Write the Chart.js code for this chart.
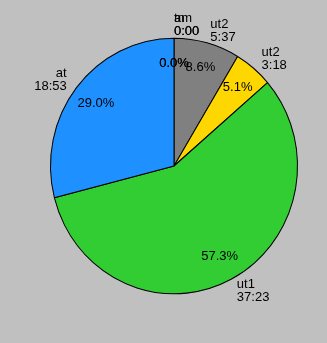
<!DOCTYPE html>
<html>
<head>
<meta charset="utf-8">
<script src="https://cdn.jsdelivr.net/npm/chart.js@4/dist/chart.umd.min.js"></script>
<style>
  html, body { margin: 0; padding: 0; background: #c0c0c0; }
  #chart { display: block; }
</style>
</head>
<body>
<canvas id="chart" width="327" height="343"></canvas>
<script>
// time spent per category, in seconds
const categories = ['am', 'tn', 'ut2', 'ut2', 'ut1', 'at'];
const seconds = [0, 0, 337, 198, 2243, 1133.8];
const sliceColors = ['#808080', '#808080', '#808080', '#ffd700', '#32cd32', '#1e90ff'];

const ctx = document.querySelector('#chart').getContext('2d');
const total = seconds.reduce((a, b) => a + b, 0);
const FONT = '13px "Liberation Sans", Arial, Helvetica, sans-serif';
// the original pie is a bit taller than wide
const STRETCH_Y = 1.035;

function fmtTime(s) {
    const m = Math.floor(s / 60);
    const r = Math.floor(s % 60);
    return `${m}:${r.toString().padStart(2, '0')}`;
}

function pieCenter(chart) {
    const arc = chart.getDatasetMeta(0).data[0];
    return arc.getProps(['x', 'y'], true);
}

const stretchPlugin = {
    id: 'stretch',
    beforeDatasetsDraw: (chart) => {
        const c = chart.ctx;
        const { x, y } = pieCenter(chart);
        c.save();
        c.translate(x, y);
        c.scale(1, STRETCH_Y);
        c.translate(-x, -y);
    },
    afterDatasetsDraw: (chart) => {
        chart.ctx.restore();
    }
};

const labelPlugin = {
    id: 'sliceLabels',
    afterDraw: (chart) => {
        const c = chart.ctx;
        const meta = chart.getDatasetMeta(0);
        c.save();
        c.font = FONT;
        c.fillStyle = '#000';
        meta.data.forEach((arc, i) => {
            const p = arc.getProps(['x', 'y', 'startAngle', 'endAngle', 'outerRadius'], true);
            const mid = (p.startAngle + p.endAngle) / 2;
            const cos = Math.cos(mid);
            const sin = Math.sin(mid) * STRETCH_Y;

            // percentage inside the slice
            const pct = (seconds[i] / total * 100).toFixed(1) + '%';
            c.textAlign = 'center';
            c.textBaseline = 'middle';
            c.fillText(pct, p.x + cos * p.outerRadius * 0.8, p.y + sin * p.outerRadius * 0.8);

            // name and time outside
            const ox = p.x + cos * p.outerRadius * 1.1;
            const oy = p.y + sin * p.outerRadius * 1.1;
            c.textAlign = cos < -0.01 ? 'right' : 'left';
            c.fillText(categories[i], ox, oy - 6.5);
            c.fillText(fmtTime(seconds[i]), ox, oy + 6.5);
        });
        c.restore();
    }
};

new Chart(ctx, {
    type: 'pie',
    data: {
        labels: categories,
        datasets: [{
            data: seconds,
            backgroundColor: sliceColors,
            borderColor: '#000',
            borderWidth: 1
        }]
    },
    options: {
        responsive: false,
        animation: false,
        layout: { padding: { left: 50, right: 29, top: 42, bottom: 53 } },
        plugins: {
            legend: { display: false },
            tooltip: { enabled: false }
        }
    },
    plugins: [stretchPlugin, labelPlugin]
});
</script>
</body>
</html>
